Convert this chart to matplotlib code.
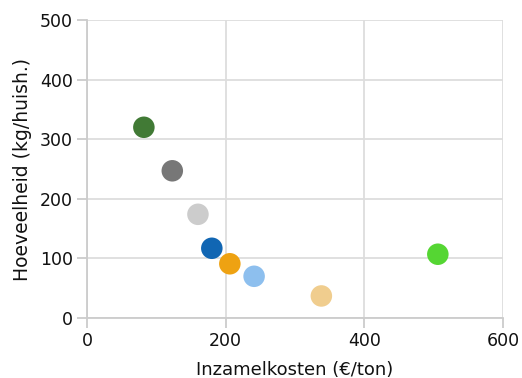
import matplotlib
matplotlib.use("Agg")
import matplotlib.pyplot as plt

# costs (euro/ton) vs amount (kg/household)
kosten = [82, 123, 160, 180, 206, 241, 338, 506]
hoeveelheid = [320, 247, 174, 117, 91, 70, 37, 107]
kleuren = ["#417A35", "#777777", "#CCCCCC", "#1166B3",
           "#EEA212", "#8DBFEE", "#F0CD8E", "#55D633"]

plt.rcParams['font.family'] = ['DejaVu Sans']

fig = plt.figure(figsize=(5.22, 3.78), dpi=100)
ax = fig.add_axes([0.1667, 0.1587, 0.7969, 0.7884])

ax.scatter(kosten, hoeveelheid, c=kleuren, s=240, linewidths=0, zorder=3)

ax.set_xlim(0, 600)
ax.set_ylim(0, 500)
ax.set_xticks([0, 200, 400, 600])
ax.set_yticks([0, 100, 200, 300, 400, 500])
ax.grid(True, color="#DDDDDD", linewidth=1.3, zorder=0)
ax.set_axisbelow(True)
for s in ["top", "right"]:
    ax.spines[s].set_visible(False)
for s in ["left", "bottom"]:
    ax.spines[s].set_color("#CCCCCC")
    ax.spines[s].set_linewidth(1.3)
ax.tick_params(colors="#CCCCCC", labelcolor="#111111", labelsize=12.5,
               length=7, width=1.3)
ax.tick_params(axis="x", pad=3)
ax.tick_params(axis="y", pad=3)
ax.set_xlabel("Inzamelkosten (€/ton)", fontsize=13, color="#111111", labelpad=8)
ax.set_ylabel("Hoeveelheid (kg/huish.)", fontsize=13.5, color="#111111", labelpad=6)

fig.savefig("out.png", dpi=100)
